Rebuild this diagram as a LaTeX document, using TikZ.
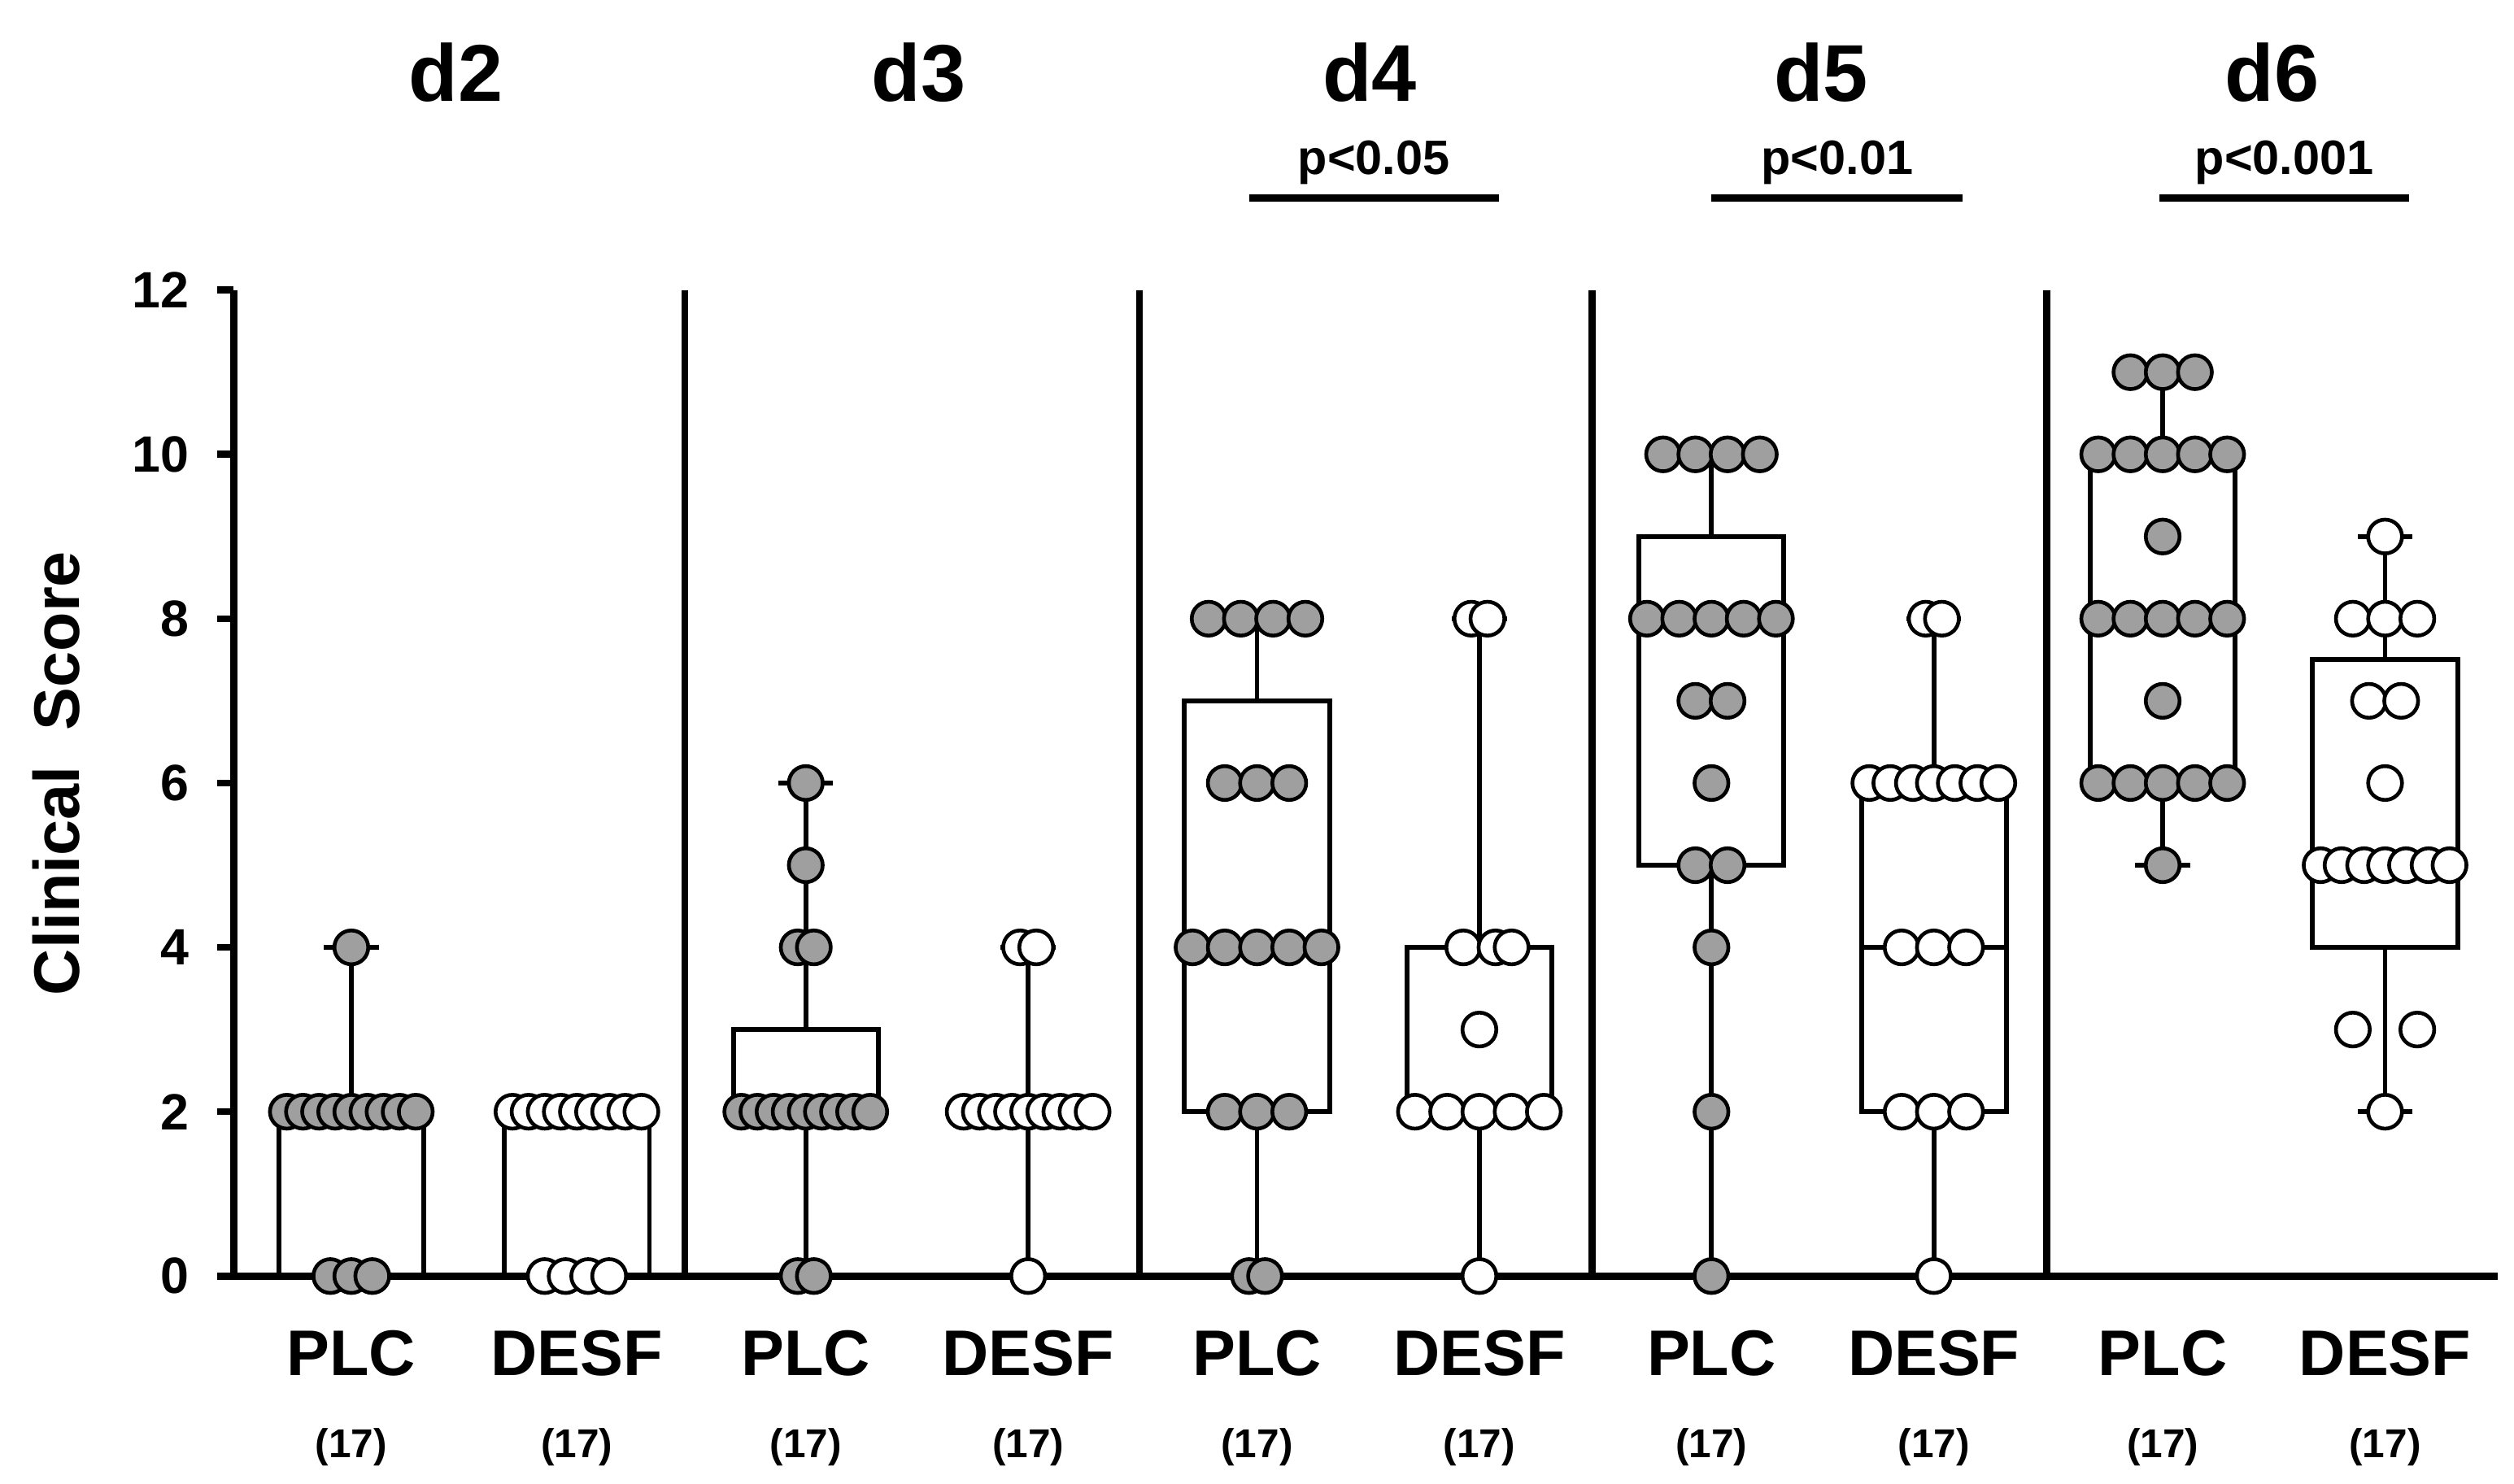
\documentclass[tikz,border=0pt]{standalone}
\usepackage{fontspec}
\setmainfont{Liberation Sans}
\begin{document}
\begin{tikzpicture}[x=0.3pt,y=-0.3pt,line width=1.1pt,
  bx/.style={draw=black,line width=0.9pt},
  pg/.style={circle,draw=black,fill=gray!75,line width=0.7pt,minimum size=6.3pt,inner sep=0pt},
  pw/.style={circle,draw=black,fill=white,line width=0.7pt,minimum size=6.3pt,inner sep=0pt},
  lab/.style={font=\fontsize{12}{14}\selectfont\bfseries},
  nn/.style={font=\fontsize{7.5}{9}\selectfont\bfseries},
  hd/.style={font=\fontsize{15}{18}\selectfont\bfseries},
  pv/.style={font=\fontsize{9}{11}\selectfont\bfseries},
  tk/.style={font=\fontsize{9.5}{11}\selectfont\bfseries,anchor=east}]
\useasboundingbox (0,0) rectangle (1560,921);
\def\Y#1{(792-51*(#1))}
% axes
\draw[line width=1.3pt] (145,180) -- (145,792) -- (1550,792);
\foreach \v in {0,2,...,12}{
  \draw[line width=1.3pt] (135,{792-51*\v}) -- (145,{792-51*\v});
  \node[tk] (t\v) at (130,{792-51*\v}) {\v};}
\foreach \s in {425,707,988,1270} \draw[line width=1.3pt] (\s,180) -- (\s,792);
\node[rotate=90,lab] (yl) at (35,480) {Clinical\ \ Score};
% box macro: center, min, q1, med, q3, max
\newcommand\mybox[6]{%
  \draw[bx] ({#1-45},{792-51*#3}) rectangle ({#1+45},{792-51*#5});
  \draw[bx] ({#1-45},{792-51*#4}) -- ({#1+45},{792-51*#4});
  \draw[bx] (#1,{792-51*#5}) -- (#1,{792-51*#6}) ({#1-17},{792-51*#6}) -- ({#1+17},{792-51*#6});
  \draw[bx] (#1,{792-51*#3}) -- (#1,{792-51*#2}) ({#1-17},{792-51*#2}) -- ({#1+17},{792-51*#2});}
\newcommand\pts[3]{\foreach \a/\b in {#3} \node[#2] at ({#1+\a},{792-51*\b}) {};}
% d2
\mybox{218}{0}{0}{2}{2}{4}
\pts{218}{pg}{-40/2,-30/2,-20/2,-10/2,0/2,10/2,20/2,30/2,40/2,-13/0,0/0,13/0,0/4}
\mybox{358}{0}{0}{2}{2}{2}
\pts{358}{pw}{-40/2,-30/2,-20/2,-10/2,0/2,10/2,20/2,30/2,40/2,-20/0,-7/0,7/0,20/0}
% d3
\mybox{500}{0}{2}{2}{3}{6}
\pts{500}{pg}{0/6,0/5,-5/4,5/4,-40/2,-30/2,-20/2,-10/2,0/2,10/2,20/2,30/2,40/2,-5/0,5/0}
\mybox{638}{0}{2}{2}{2}{4}
\pts{638}{pw}{-5/4,5/4,-40/2,-30/2,-20/2,-10/2,0/2,10/2,20/2,30/2,40/2,0/0}
% d4
\mybox{780}{0}{2}{4}{7}{8}
\pts{780}{pg}{-30/8,-10/8,10/8,30/8,-20/6,0/6,20/6,-40/4,-20/4,0/4,20/4,40/4,-20/2,0/2,20/2,-5/0,5/0}
\mybox{918}{0}{2}{2}{4}{8}
\pts{918}{pw}{-5/8,5/8,-10/4,10/4,20/4,0/3,-40/2,-20/2,0/2,20/2,40/2,0/0}
% d5
\mybox{1062}{0}{5}{8}{9}{10}
\pts{1062}{pg}{-30/10,-10/10,10/10,30/10,-40/8,-20/8,0/8,20/8,40/8,-10/7,10/7,0/6,-10/5,10/5,0/4,0/2,0/0}
\mybox{1200}{0}{2}{4}{6}{8}
\pts{1200}{pw}{-5/8,5/8,-40/6,-27/6,-13/6,0/6,13/6,27/6,40/6,-20/4,0/4,20/4,-20/2,0/2,20/2,0/0}
% d6
\mybox{1342}{5}{6}{8}{10}{11}
\pts{1342}{pg}{-20/11,0/11,20/11,-40/10,-20/10,0/10,20/10,40/10,0/9,-40/8,-20/8,0/8,20/8,40/8,0/7,-40/6,-20/6,0/6,20/6,40/6,0/5}
\mybox{1480}{2}{4}{5}{7.5}{9}
\pts{1480}{pw}{0/9,-20/8,0/8,20/8,-10/7,10/7,0/6,-40/5,-27/5,-13/5,0/5,13/5,27/5,40/5,-20/3,20/3,0/2}
% labels
\foreach \x/\t [count=\i] in {218/PLC,358/DESF,500/PLC,638/DESF,780/PLC,918/DESF,1062/PLC,1200/DESF,1342/PLC,1480/DESF}{
  \node[lab] (g\i) at (\x,840) {\t};
  \node[nn] (n\i) at (\x,898) {(17)};}
\foreach \x/\t in {283/d2,570/d3,850/d4,1130/d5,1410/d6} \node[hd] (h\t) at (\x,45) {\t};
\foreach \a/\b/\t [count=\i] in {775/930/p<0.05,1062/1218/p<0.01,1340/1495/p<0.001}{
  \draw[line width=1.3pt] (\a,123) -- (\b,123);
  \node[pv] (p\i) at ({(\a+\b)/2},101) {\t};}
\end{tikzpicture}
\end{document}
